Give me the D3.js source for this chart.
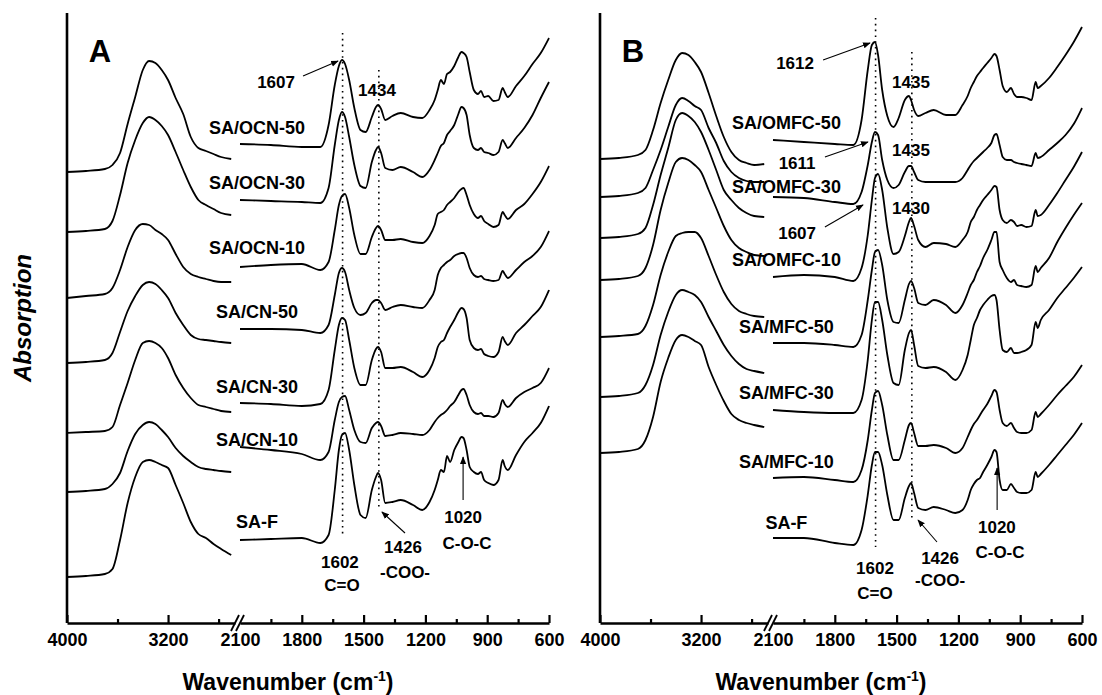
<!DOCTYPE html>
<html><head><meta charset="utf-8">
<script src="https://cdn.jsdelivr.net/npm/d3@7"></script>
<style>
html,body{margin:0;padding:0;background:#fff;}
svg text{font-family:"Liberation Sans",Arial,sans-serif;font-weight:bold;fill:#000;}
</style></head><body>
<svg id="chart" width="1102" height="695"></svg>
<script>
// ---------------- DATA ----------------
// wavenumber grids (cm-1) for the two parts of the broken axis
const wavesLeft = [4000,3850,3700,3640,3580,3520,3460,3400,3350,3300,3250,3200,3140,3080,3020,2960,2900,2840,2780,2700];
const wavesRight = [2100,1950,1800,1710,1670,1640,1620,1605,1590,1570,1545,1515,1490,1460,1440,1430,1415,1395,1360,1320,1260,1215,1180,1155,1140,1125,1110,1095,1080,1060,1040,1025,1015,1000,985,965,945,930,915,895,870,845,825,815,800,760,720,680,640,600];

// tick labels
const majorTicksLeft = [4000, 3200];
const minorTicksLeft = [3600, 2800];
const majorTicksRight = [2100, 1800, 1500, 1200, 900, 600];
const minorTicksRight = [1950, 1650, 1350, 1050, 750];

// Panel A spectra (stacked absorption, arbitrary units)
const ocn50Left  = [451,452,454,458,470,499,526,553,562,560,553,543,525,509,486,475,472,469,466,464];
const ocn50Right = [479,478,476,476,498,538,557,563,559,543,515,493,491,506,516,518,514,503,507,510,506,505,513,523,533,543,539,549,551,557,566,571,570,566,551,533,529,532,526,527,522,523,535,531,526,537,547,559,570,585];
const ocn30Left  = [391,392,394,402,428,460,483,500,506,503,497,488,471,453,436,423,418,414,410,408];
const ocn30Right = [423,422,421,420,435,478,503,511,506,486,458,437,435,461,473,476,470,455,453,456,451,446,453,463,470,477,480,488,492,498,509,516,515,508,488,475,473,475,471,470,468,471,483,480,475,485,495,508,525,541];
const ocn10Left  = [325,327,329,335,353,376,393,399,398,393,389,383,369,356,349,346,344,342,341,341];
const ocn10Right = [356,358,359,353,361,393,418,427,429,415,388,369,369,386,395,397,393,383,383,384,381,380,387,398,409,411,413,418,421,425,431,434,435,428,418,409,405,407,402,399,396,398,411,408,404,413,419,429,441,457];
const cn50Left   = [260,261,263,270,291,312,327,338,341,339,333,325,310,298,288,284,283,282,281,280];
const cn50Right  = [294,294,293,290,298,328,350,355,351,333,315,308,310,320,323,323,320,313,316,318,316,315,323,333,348,355,358,361,363,367,369,370,370,365,355,348,346,347,344,343,342,343,352,349,345,353,361,367,376,392];
const cn30Left   = [190,191,192,196,218,240,263,280,282,280,275,265,248,235,225,218,216,214,212,211];
const cn30Right  = [220,219,217,219,233,273,298,305,303,283,255,238,238,263,274,276,271,255,255,256,251,246,253,265,276,281,283,290,296,303,311,315,314,305,283,275,273,274,269,267,266,271,286,282,278,290,298,307,316,333];
const cn10Left   = [131,132,134,139,150,172,189,198,201,199,193,186,175,167,161,156,154,153,152,151];
const cn10Right  = [176,173,169,163,171,203,221,226,227,213,193,181,180,195,200,201,197,187,188,190,189,188,193,201,205,208,210,213,217,221,228,233,234,228,218,211,209,210,207,207,206,210,223,219,216,225,231,235,240,255];
const saFALeft   = [46,47,49,54,83,120,146,161,163,161,158,155,138,120,101,89,85,79,74,68];
const saFARight  = [83,84,85,80,88,133,173,188,190,173,138,108,105,133,146,150,143,120,121,123,118,113,121,133,143,153,151,167,161,173,181,186,185,173,156,151,149,151,143,140,138,143,163,157,153,168,181,190,200,217];

// Panel B spectra
const omfc50Left  = [464,465,468,473,493,520,543,563,570,568,561,551,530,507,486,471,463,460,458,459];
const omfc50Right = [483,481,479,478,503,553,578,581,568,533,507,496,505,523,527,523,513,507,510,513,508,508,518,527,535,541,547,551,555,560,565,569,567,553,537,531,535,529,526,526,525,523,541,535,537,545,556,568,581,596];
const omfc30Left  = [426,427,430,435,453,473,496,518,525,522,517,513,495,480,462,451,445,442,441,441];
const omfc30Right = [426,425,421,419,431,458,481,491,488,463,443,435,438,451,457,457,451,443,441,441,441,441,445,453,458,462,465,468,471,475,480,488,489,478,466,463,463,461,460,459,458,457,470,465,466,473,480,488,499,515];
const omfc10Left  = [385,386,389,395,418,448,475,503,510,507,501,491,473,453,433,423,415,410,407,406];
const omfc10Right = [346,348,346,342,355,388,423,445,449,433,395,369,371,387,401,405,397,383,376,380,379,376,383,391,401,406,413,418,423,428,433,437,436,413,403,400,403,401,397,398,396,397,413,407,408,418,430,443,456,471];
const mfc50Left   = [343,344,347,355,378,413,440,461,465,463,458,451,433,415,397,383,375,371,368,367];
const mfc50Right  = [280,280,278,276,288,323,353,371,373,358,323,301,300,323,339,342,335,320,318,323,318,310,318,330,338,343,351,357,365,373,383,391,391,361,353,345,341,343,338,337,336,338,357,351,355,365,381,395,408,420];
const mfc30Left   = [286,287,289,297,318,348,371,387,390,391,391,385,367,348,331,319,312,309,307,306];
const mfc30Right  = [213,211,210,210,223,263,303,321,321,303,268,240,238,273,290,293,278,257,255,256,251,243,253,268,283,298,305,313,318,323,327,328,323,293,273,271,275,270,270,271,273,278,301,295,303,313,325,335,345,356];
const mfc10Left   = [226,227,230,238,258,288,311,328,333,331,328,321,306,292,278,267,259,254,252,250];
const mfc10Right  = [145,146,143,141,153,183,213,230,232,218,188,163,163,183,198,200,190,177,177,178,175,170,175,186,193,199,203,208,213,219,227,233,231,213,200,197,200,195,191,190,190,193,211,206,209,218,228,237,246,258];
const saFBLeft    = [170,171,174,183,206,241,265,283,288,286,282,278,256,238,222,209,203,200,198,196];
const saFBRight   = [85,85,80,78,93,128,158,171,171,158,128,103,103,125,137,140,130,115,113,116,113,110,113,123,133,139,143,145,151,158,166,173,171,143,133,133,139,135,131,130,130,133,151,146,149,158,168,178,188,200];

const namesA = ["SA/OCN-50","SA/OCN-30","SA/OCN-10","SA/CN-50","SA/CN-30","SA/CN-10","SA-F"];
const namesB = ["SA/OMFC-50","SA/OMFC-30","SA/OMFC-10","SA/MFC-50","SA/MFC-30","SA/MFC-10","SA-F"];
// label anchor value (absorption units) for each spectrum name
const labelValuesA = [489,434,369,305,230,177,95];
const labelValuesB = [494,430,357,290,224,155,94];

// ---------------- LAYOUT ----------------
const svg = d3.select("#chart");
const yScale = d3.scaleLinear().domain([0, 610]).range([623, 13]);

svg.append("defs").append("marker")
  .attr("id","arrow").attr("viewBox","0 0 10 10").attr("refX",9).attr("refY",5)
  .attr("markerWidth",7).attr("markerHeight",7).attr("orient","auto")
  .append("path").attr("d","M0,1L10,5L0,9z").attr("fill","#000");

const panels = [
  { letter:"A", x0:67, labelW:2017, names:namesA, labelValues:labelValuesA,
    spectra:[[ocn50Left,ocn50Right],[ocn30Left,ocn30Right],[ocn10Left,ocn10Right],[cn50Left,cn50Right],[cn30Left,cn30Right],[cn10Left,cn10Right],[saFALeft,saFARight]],
    texts:[["1607",1925,535],["1434",1435,527],["1602",1615,55],["C=O",1605,32],["1426",1309,70],["-COO-",1299,45],["1020",1017,100],["C-O-C",998,74]],
    arrows:[[1794,547,1624,562],[1299,90,1411,111],[1017,123,1017,166]],
    dotted:[[1602,590,86],[1426,553,113]] },
  { letter:"B", x0:600, labelW:2035, names:namesB, labelValues:labelValuesB,
    spectra:[[omfc50Left,omfc50Right],[omfc30Left,omfc30Right],[omfc10Left,omfc10Right],[mfc50Left,mfc50Right],[mfc30Left,mfc30Right],[mfc10Left,mfc10Right],[saFBLeft,saFBRight]],
    texts:[["1612",1993,554],["1435",1430,535],["1611",1983,454],["1435",1430,467],["1607",1983,384],["1430",1430,409],["1602",1605,49],["C=O",1605,24],["1426",1289,59],["-COO-",1289,37],["1020",1013,90],["C-O-C",998,65]],
    arrows:[[1857,563,1629,580],[1848,466,1639,481],[1848,396,1663,418],[1304,81,1396,103],[1012,113,1012,155]],
    dotted:[[1602,605,76],[1426,571,103]] }
];

const line = d3.line().curve(d3.curveMonotoneX);

panels.forEach(p => {
  const g = svg.append("g");
  const xL = d3.scaleLinear().domain([4000, 2670]).range([p.x0, p.x0 + 168]);
  const xR = d3.scaleLinear().domain([2100, 600]).range([p.x0 + 173, p.x0 + 482]);
  const baseY = yScale(0);

  // spectra
  p.spectra.forEach(([left, right]) => {
    g.append("path").attr("d", line(wavesLeft.map((w,i)=>[xL(w), yScale(left[i])])))
      .attr("fill","none").attr("stroke","#000").attr("stroke-width",1.8).attr("stroke-linejoin","round");
    g.append("path").attr("d", line(wavesRight.map((w,i)=>[xR(w), yScale(right[i])])))
      .attr("fill","none").attr("stroke","#000").attr("stroke-width",1.8).attr("stroke-linejoin","round");
  });

  // dotted guide lines
  p.dotted.forEach(([w, v1, v2]) => {
    g.append("line").attr("x1", xR(w)).attr("x2", xR(w)).attr("y1", yScale(v1)).attr("y2", yScale(v2))
      .attr("stroke","#000").attr("stroke-width",1.6).attr("stroke-dasharray","1.6,4.2");
  });

  // spectrum names
  p.names.forEach((n,i) => {
    g.append("text").attr("x", xR(p.labelW)).attr("y", yScale(p.labelValues[i]))
      .attr("text-anchor","middle").style("font-size","18px").text(n);
  });

  // annotations
  p.texts.forEach(([t, w, v]) => {
    g.append("text").attr("x", xR(w)).attr("y", yScale(v)).attr("text-anchor","middle")
      .style("font-size","17px").text(t);
  });
  p.arrows.forEach(([w1,v1,w2,v2]) => {
    g.append("line").attr("x1", xR(w1)).attr("y1", yScale(v1)).attr("x2", xR(w2)).attr("y2", yScale(v2))
      .attr("stroke","#000").attr("stroke-width",1.1).attr("marker-end","url(#arrow)");
  });

  // panel letter
  g.append("text").attr("x", xL(3740)).attr("y", yScale(561)).attr("text-anchor","middle")
    .style("font-size","31px").text(p.letter);

  // y axis line
  g.append("line").attr("x1", p.x0).attr("x2", p.x0).attr("y1", yScale(610)).attr("y2", baseY)
    .attr("stroke","#000").attr("stroke-width",2.6);

  // x axes
  const styleAxis = sel => {
    sel.selectAll("path.domain").attr("stroke","#000").attr("stroke-width",2.6);
    sel.selectAll(".tick line").attr("stroke","#000").attr("stroke-width",2.2);
    sel.selectAll(".tick text").style("font-size","18px").style("font-family",'"Liberation Sans",Arial,sans-serif').style("font-weight","bold");
  };
  const axL = g.append("g").attr("transform",`translate(0,${baseY})`)
    .call(d3.axisBottom(xL).tickValues(majorTicksLeft).tickSizeInner(-8).tickSizeOuter(0).tickPadding(10).tickFormat(d3.format("d")));
  styleAxis(axL);
  const axLm = g.append("g").attr("transform",`translate(0,${baseY})`)
    .call(d3.axisBottom(xL).tickValues(minorTicksLeft).tickSizeInner(-4).tickSizeOuter(0).tickFormat(""));
  styleAxis(axLm); axLm.select("path.domain").remove();
  const axR = g.append("g").attr("transform",`translate(0,${baseY})`)
    .call(d3.axisBottom(xR).tickValues(majorTicksRight).tickSizeInner(-8).tickSizeOuter(0).tickPadding(10).tickFormat(d3.format("d")));
  styleAxis(axR);
  axR.selectAll(".tick").filter(d => d === 2100).select("line").remove();
  const axRm = g.append("g").attr("transform",`translate(0,${baseY})`)
    .call(d3.axisBottom(xR).tickValues(minorTicksRight).tickSizeInner(-4).tickSizeOuter(0).tickFormat(""));
  styleAxis(axRm); axRm.select("path.domain").remove();

  // axis break marks
  const gapC = (xL.range()[1] + xR.range()[0]) / 2;
  [-2.5, 2.5].forEach(dx => {
    g.append("line").attr("x1", gapC + dx - 4).attr("y1", baseY + 8).attr("x2", gapC + dx + 4).attr("y2", baseY - 8)
      .attr("stroke","#000").attr("stroke-width",1.8);
  });

  // x title
  const t = g.append("text").attr("x", p.x0 + 221).attr("y", 690).attr("text-anchor","middle").style("font-size","23px");
  t.append("tspan").text("Wavenumber (cm");
  t.append("tspan").attr("dy","-9").style("font-size","14px").text("-1");
  t.append("tspan").attr("dy","9").text(")");
});

// y title
svg.append("text").attr("transform","translate(31,318) rotate(-90)").attr("text-anchor","middle")
  .style("font-size","24px").style("font-style","italic").text("Absorption");
</script>
</body></html>
